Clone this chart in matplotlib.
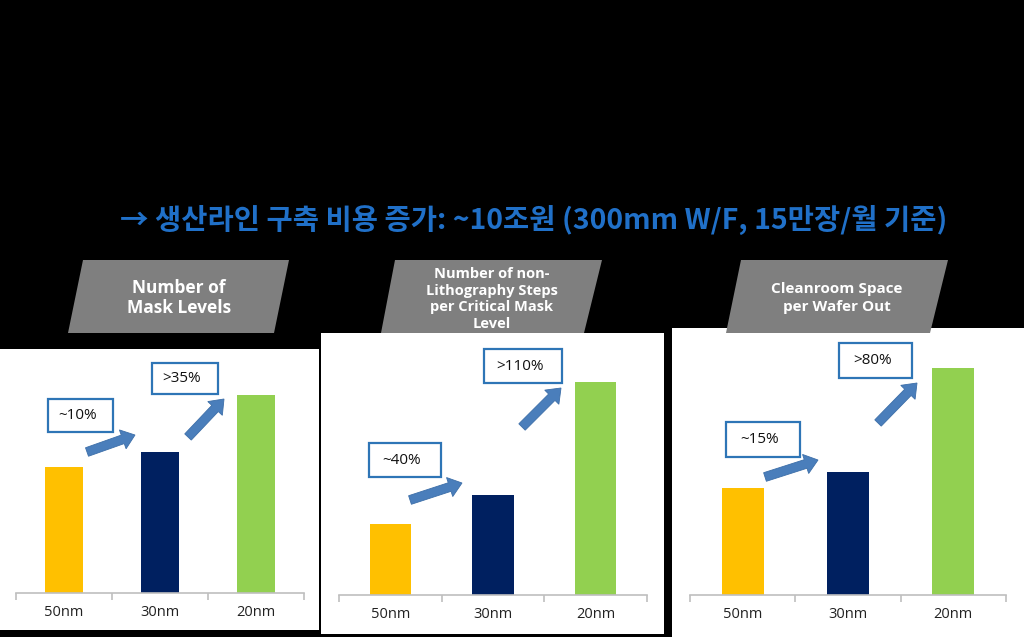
import matplotlib
matplotlib.use("Agg")
import matplotlib.pyplot as plt
from matplotlib.patches import Rectangle, Polygon, FancyArrow

# ---------------- data ----------------
categories = ["50nm", "30nm", "20nm"]
mask_levels = [100, 112, 157]
nonlitho_steps = [100, 141, 300]
cleanroom_space = [100, 115, 212]

panel_titles = [
    "Number of\nMask Levels",
    "Number of non-\nLithography Steps\nper Critical Mask\nLevel",
    "Cleanroom Space\nper Wafer Out",
]
step_labels = [
    ["~10%", ">35%"],
    ["~40%", ">110%"],
    ["~15%", ">80%"],
]
title_text = "→ 생산라인 구축 비용 증가: ~10조원 (300mm W/F, 15만장/월 기준)"

bar_colors = ["#FFC000", "#002060", "#92D050"]
series = [mask_levels, nonlitho_steps, cleanroom_space]

W, H = 1024, 637
fig = plt.figure(figsize=(W / 100, H / 100), dpi=100, facecolor="black")

LATIN = ["Open Sans", "DejaVu Sans"]
KR = ["Noto Sans CJK KR", "DejaVu Sans"]


def frac(x0, y0, x1, y1):
    return [x0 / W, 1 - y1 / H, (x1 - x0) / W, (y1 - y0) / H]


# background layer (pixel coordinates)
bg = fig.add_axes([0, 0, 1, 1], zorder=0)
bg.set_xlim(0, W)
bg.set_ylim(H, 0)
bg.axis("off")
bg.set_facecolor("black")

panels = [(0, 349, 319, 630), (321, 333, 664, 634), (672, 328, 1024, 637)]
for (x0, y0, x1, y1) in panels:
    bg.add_patch(Rectangle((x0, y0), x1 - x0, y1 - y0, facecolor="white",
                           edgecolor="none"))

headers = [
    [(83, 260), (289, 260), (274, 333), (68, 333)],
    [(395, 260), (602, 260), (584, 333), (381, 333)],
    [(741, 260), (948, 260), (930, 333), (726, 333)],
]
header_text_pos = [(179, 298, 12.5, 1.2), (492, 299, 10.5, 1.22),
                   (837, 298, 11, 1.32)]
for poly, (tx, ty, fs, ls), ttl in zip(headers, header_text_pos, panel_titles):
    bg.add_patch(Polygon(poly, closed=True, facecolor="#7F7F7F",
                         edgecolor="none", zorder=3))
    bg.text(tx, ty, ttl, ha="center", va="center", color="white",
            fontsize=fs, fontweight="bold", family=LATIN, linespacing=ls,
            zorder=4)

bg.text(534, 220, title_text, ha="center", va="center", color="#2070C8",
        fontsize=20.5, fontweight="bold", family=KR)

# bar axes
axes_boxes = [(16, 349, 304, 593), (339, 333, 647, 595), (690, 328, 1006, 595)]
ymaxes = [193.7, 369, 249.5]
for vals, box, ymax in zip(series, axes_boxes, ymaxes):
    ax = fig.add_axes(frac(*box), zorder=1)
    ax.set_facecolor("none")
    x = list(range(len(categories)))
    ax.bar(x, vals, width=0.4, color=bar_colors)
    ax.set_xlim(-0.5, len(categories) - 0.5)
    ax.set_ylim(0, ymax)
    for s in ["top", "right", "left"]:
        ax.spines[s].set_visible(False)
    ax.spines["bottom"].set_color("#BFBFBF")
    ax.spines["bottom"].set_linewidth(1.2)
    ax.set_yticks([])
    ax.set_xticks([-0.5, 0.5, 1.5, 2.5])
    ax.set_xticklabels([])
    ax.tick_params(axis="x", which="major", length=5, color="#BFBFBF",
                   direction="out", width=1.2)
    ax.set_xticks(x, minor=True)
    ax.set_xticklabels(categories, minor=True, family=LATIN, fontsize=10.5,
                       color="#222222")
    ax.tick_params(axis="x", which="minor", length=0, pad=9)

# annotation overlay (pixel coordinates)
ov = fig.add_axes([0, 0, 1, 1], zorder=2)
ov.set_xlim(0, W)
ov.set_ylim(H, 0)
ov.axis("off")
ov.patch.set_alpha(0)

boxes = [
    [(48, 399, 113, 432), (152, 363, 218, 394)],
    [(369, 443, 441, 477), (484, 349, 562, 383)],
    [(726, 422, 800, 457), (839, 343, 912, 378)],
]
arrows = [
    [((87, 452), (135, 435)), ((188, 437), (224, 399))],
    [((410, 500), (462, 483)), ((522, 427), (561, 388))],
    [((765, 477), (818, 460)), ((878, 423), (917, 383))],
]
for pb, pa, labels in zip(boxes, arrows, step_labels):
    for (x0, y0, x1, y1), lab in zip(pb, labels):
        ov.add_patch(Rectangle((x0, y0), x1 - x0, y1 - y0, facecolor="white",
                               edgecolor="#2E75B6", linewidth=1.6))
        ov.text((x0 + x1) / 2 - 3, (y0 + y1) / 2, lab, ha="center",
                va="center", fontsize=11, family=LATIN, color="#111111")
    for (xa, ya), (xb, yb) in pa:
        ov.add_patch(FancyArrow(xa, ya, xb - xa, yb - ya, width=9,
                                head_width=20, head_length=13,
                                length_includes_head=True,
                                facecolor="#4A7EBB", edgecolor="#3C6EA8",
                                linewidth=0.6))

fig.savefig("out.png", dpi=100, facecolor="black")
